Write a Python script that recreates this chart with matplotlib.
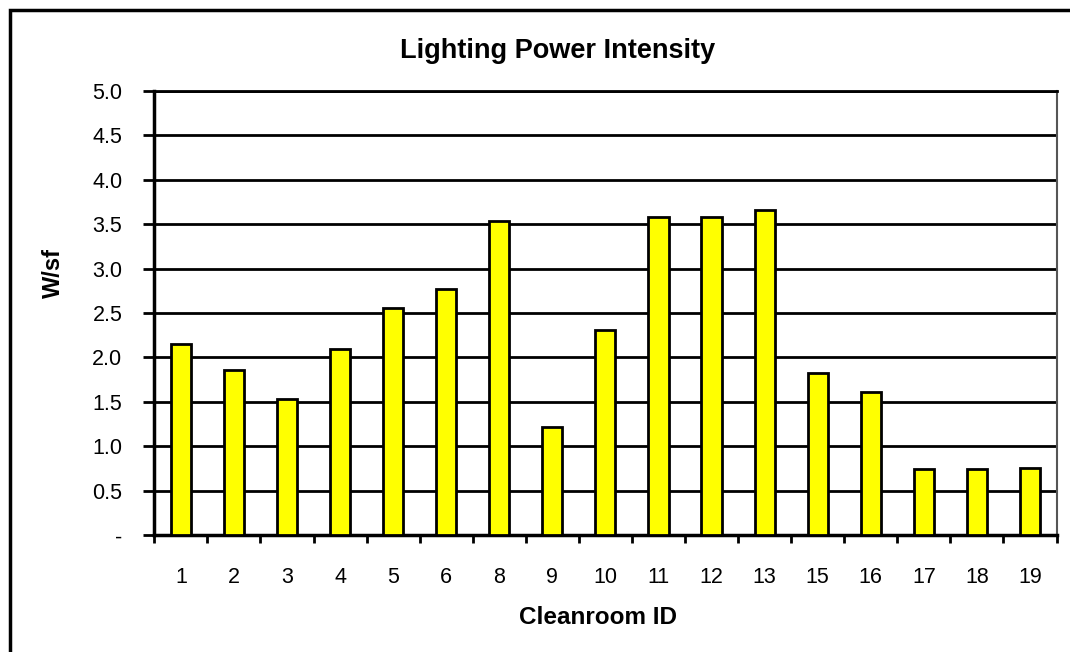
import matplotlib
matplotlib.use("Agg")
import matplotlib.pyplot as plt
from matplotlib import patches
import numpy as np

plt.rcParams['font.family'] = ['Liberation Sans', 'DejaVu Sans']

rooms = ['1', '2', '3', '4', '5', '6', '8', '9', '10', '11', '12', '13', '15', '16', '17', '18', '19']
wsf = [2.15, 1.86, 1.53, 2.10, 2.56, 2.77, 3.53, 1.22, 2.31, 3.58, 3.58, 3.66, 1.82, 1.61, 0.74, 0.74, 0.76]
yticks = [0, 0.5, 1.0, 1.5, 2.0, 2.5, 3.0, 3.5, 4.0, 4.5, 5.0]
ytick_labels = ['-'] + [f"{v:.1f}" for v in yticks[1:]]

fig = plt.figure(figsize=(10.7, 6.52), dpi=100)
ax = fig.add_axes([154.3/1070, 1-535.3/652, (1056.5-154.3)/1070, (535.3-90.7)/652])

x = np.arange(len(rooms))
ax.set_axisbelow(True)
ax.grid(axis='y', color='black', lw=2)
ax.bar(x, wsf, width=0.38, color='#FFFF00', edgecolor='black', lw=2, zorder=3)

ax.set_ylim(0, 5)
ax.set_xlim(-0.5, len(rooms)-0.5)
ax.set_yticks(yticks)
ax.set_yticklabels(ytick_labels, fontsize=15.5)
ax.tick_params(axis='y', length=8, width=2, pad=15)

# ticks between categories, labels centred under bars
ax.set_xticks(np.arange(-0.5, len(rooms)), minor=False)
ax.set_xticklabels([])
ax.set_xticks(x, minor=True)
ax.set_xticklabels(rooms, minor=True, fontsize=15.5)
ax.tick_params(axis='x', which='major', length=6, width=2)
ax.tick_params(axis='x', which='minor', length=0, pad=23)

for s in ['left', 'bottom']:
  ax.spines[s].set_linewidth(2.5)
ax.spines['top'].set_linewidth(2)
ax.spines['right'].set_linewidth(1.5)
ax.spines['right'].set_color('#555555')

ax.set_ylabel('W/sf', fontsize=17, fontweight='bold')
ax.yaxis.set_label_coords(-0.112, 0.589)
ax.set_xlabel('Cleanroom ID', fontsize=17.5, fontweight='bold')
ax.xaxis.set_label_coords(0.492, -0.184)
ax.xaxis.label.set_va('center')
ax.yaxis.label.set_va('center')

fig.text(0.521, 0.922, 'Lighting Power Intensity', fontsize=19.5, fontweight='bold', ha='center', va='center')

fig.patches.append(patches.Rectangle((9.5/1070, -0.1), 1.2, 1.1 - 9.5/652, transform=fig.transFigure,
                                     fill=False, edgecolor='black', lw=2.5, clip_on=False))

fig.savefig('out.png', dpi=100)
